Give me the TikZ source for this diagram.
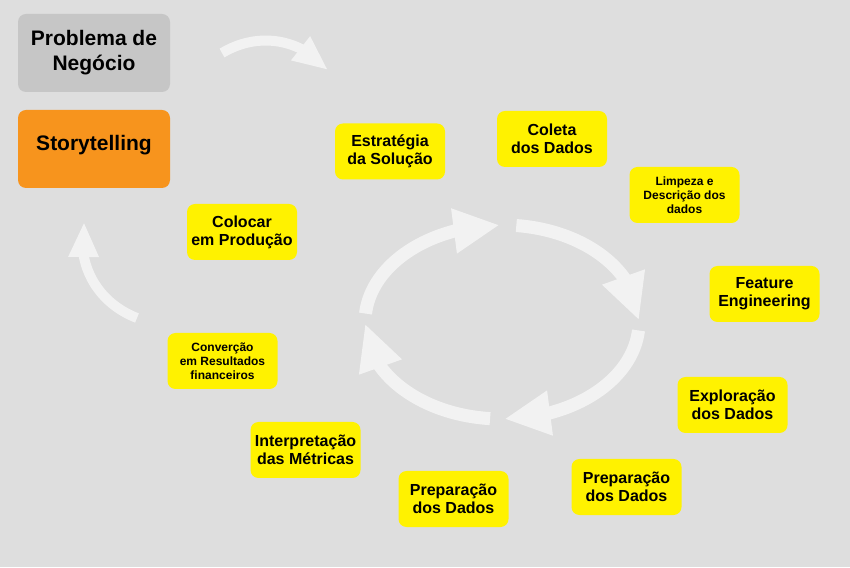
\documentclass[tikz,border=0pt]{standalone}
\usepackage{fontspec}
\setmainfont{Liberation Sans}
\usetikzlibrary{arrows.meta,bending}
\definecolor{bggray}{HTML}{DEDEDE}
\definecolor{boxgray}{HTML}{C6C6C6}
\definecolor{boxorange}{HTML}{F7941D}
\definecolor{boxyellow}{HTML}{FFF200}
\definecolor{arrowwhite}{HTML}{F2F2F2}
\begin{document}
\begin{tikzpicture}[x=1pt,y=1pt,join=round]
    \tikzstyle{box} = [rectangle,rounded corners=8pt,inner sep=0pt,align=center,
                       font=\bfseries\fontsize{16}{18}\selectfont]
    \tikzstyle{stepbox} = [box,fill=boxyellow,minimum width=110pt,minimum height=56pt]
    \tikzstyle{smalltext} = [font=\bfseries\fontsize{12}{14}\selectfont]
    \tikzstyle{bigbox} = [box,minimum width=152pt,minimum height=78pt,
                          font=\bfseries\fontsize{21}{25}\selectfont]
    \tikzstyle{cyclearrow} = [color=arrowwhite,line width=13pt,
                              -{Triangle[length=46pt,width=42pt]}]
    \tikzstyle{sidearrow} = [color=arrowwhite,line width=10pt,
                             -{Triangle[length=35pt,width=28pt]}]

    \fill[bggray] (0,0) rectangle (850,567);
    \useasboundingbox (0,0) rectangle (850,567);

    % Left column
    \node[bigbox,fill=boxgray] (problema) at (94,514) {Problema de\\Negócio};
    \node[bigbox,fill=boxorange,text depth=12pt] (story) at (94,418) {Storytelling};

    % Steps around the cycle
    \node[stepbox] (estrategia) at (390,415.5) {Estratégia\\da Solução};
    \node[stepbox] (coleta) at (552,428) {Coleta\\dos Dados};
    \node[stepbox,smalltext] (limpeza) at (684.5,372) {Limpeza e\\Descrição dos\\dados};
    \node[stepbox] (feature) at (764.5,273) {Feature\\Engineering};
    \node[stepbox] (exploracao) at (732.5,162) {Exploração\\dos Dados};
    \node[stepbox] (prepdir) at (626.5,80) {Preparação\\dos Dados};
    \node[stepbox] (prepesq) at (453.5,68) {Preparação\\dos Dados};
    \node[stepbox] (interpretacao) at (305.5,117) {Interpretação\\das Métricas};
    \node[stepbox,smalltext] (conversao) at (222.5,206) {Converção\\em Resultados\\financeiros};
    \node[stepbox] (producao) at (242,335) {Colocar\\em Produção};

    % Cycle in the middle
    \foreach \a/\b in {175/91,84/1,-5/-89,-95/-179}
        \draw[cyclearrow] (502,245) ++(\a:137 and 97)
              arc[start angle=\a,end angle=\b,x radius=137,y radius=97];

    % Outer arrows
    \coordinate (topstart) at (222,514);
    \coordinate (topend) at (328,497);
    \draw[sidearrow] (topstart) to[bend left=40] (topend);
    \coordinate (leftstart) at (137,249);
    \coordinate (leftend) at (84,345);
    \draw[sidearrow] (leftstart) to[bend left=40] (leftend);
\end{tikzpicture}
\end{document}
